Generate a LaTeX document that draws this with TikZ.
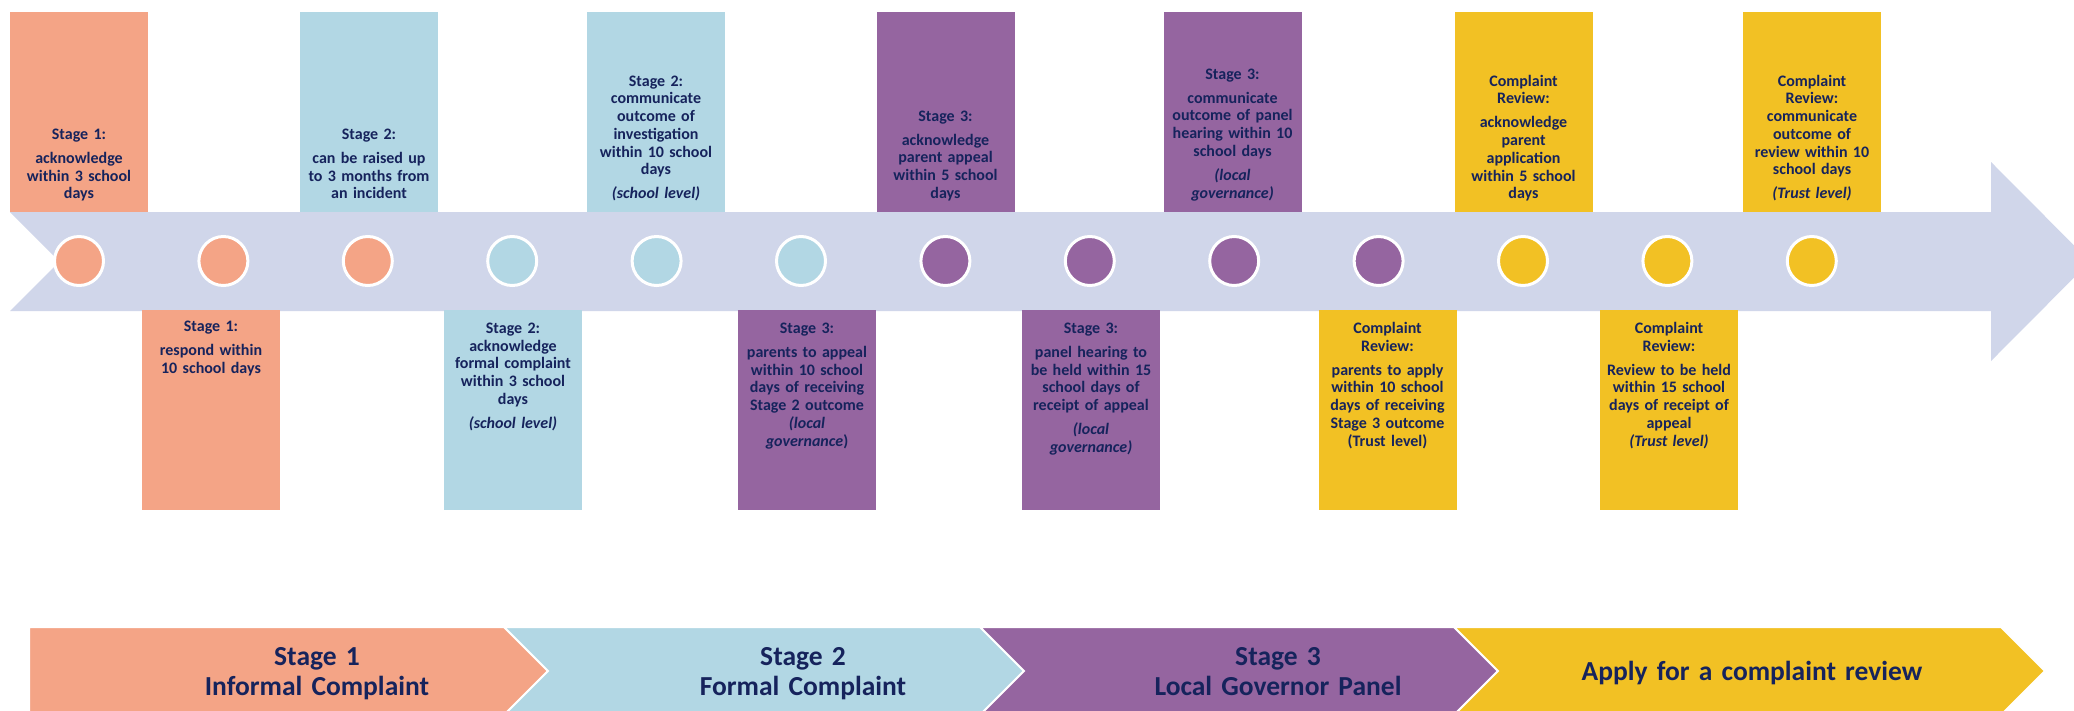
\documentclass[tikz,border=0pt]{standalone}
\usepackage{fontspec}
\setmainfont{Carlito}
\definecolor{txtnavy}{RGB}{22,35,92}
\definecolor{corange}{RGB}{244,164,134}
\definecolor{cblue}{RGB}{178,215,228}
\definecolor{cpurple}{RGB}{149,101,160}
\definecolor{cyellow}{RGB}{242,193,36}
\definecolor{cband}{RGB}{208,214,234}
\tikzset{
  topbox/.style={rectangle, minimum width=138pt, minimum height=200pt, inner sep=0pt, draw=none, fill=#1},
  botbox/.style={rectangle, minimum width=138pt, minimum height=200pt, inner sep=0pt, draw=none, fill=#1},
  boxtxt/.style={text width=136pt, align=center, inner sep=0pt, anchor=base, text=txtnavy,
    font=\bfseries\fontsize{16}{17.7}\selectfont},
  dot/.style={circle, minimum size=49pt, inner sep=0pt, fill=#1, draw=white, line width=3pt},
  chev/.style={fill=#1, draw=white, line width=2pt},
  chevtxt/.style={text width=500pt, align=center, inner sep=0pt, anchor=base, text=txtnavy,
    font=\bfseries\fontsize{27.5}{30}\selectfont}
}
\begin{document}
\begin{tikzpicture}[x=1pt,y=-1pt]
\useasboundingbox (0,0) rectangle (2074,710);
\clip (0,0) rectangle (2074,710);
\fill[white] (0,0) rectangle (2074,710);
% timeline band
\fill[cband] (10,212) -- (1991,212) -- (1991,162) -- (2090,261.5) -- (1991,361) -- (1991,311)
  -- (10,311) -- (59.5,261.5) -- cycle;
% boxes
\node[topbox=corange] (b1) at (79,112) {};
\node[botbox=corange] (b2) at (211,410) {};
\node[topbox=cblue] (b3) at (369,112) {};
\node[botbox=cblue] (b4) at (513,410) {};
\node[topbox=cblue] (b5) at (656,112) {};
\node[botbox=cpurple] (b6) at (807,410) {};
\node[topbox=cpurple] (b7) at (945.5,112) {};
\node[botbox=cpurple] (b8) at (1091,410) {};
\node[topbox=cpurple] (b9) at (1232.5,112) {};
\node[botbox=cyellow] (b10) at (1387.5,410) {};
\node[topbox=cyellow] (b11) at (1523.5,112) {};
\node[botbox=cyellow] (b12) at (1669,410) {};
\node[topbox=cyellow] (b13) at (1812,112) {};
% texts
\node[boxtxt] (t1) at (79,139.5) {Stage 1:\\[6.3pt]acknowledge\\within 3 school\\days};
\node[boxtxt] (t2) at (211,331.9) {Stage 1:\\[6.3pt]respond within\\10 school days};
\node[boxtxt] (t3) at (369,139.5) {Stage 2:\\[6.3pt]can be raised up\\to 3 months from\\an incident};
\node[boxtxt] (t4) at (513,333.5) {Stage 2:\\acknowledge\\formal complaint\\within 3 school\\days\\[6.3pt]\textit{(school level)}};
\node[boxtxt] (t5) at (656,86.2) {Stage 2:\\communicate\\outcome of\\investigation\\within 10 school\\days\\[6.3pt]\textit{(school level)}};
\node[boxtxt] (t6) at (807,333.5) {Stage 3:\\[6.3pt]parents to appeal\\within 10 school\\days of receiving\\Stage 2 outcome\\\textit{(local}\\\textit{governance})};
\node[boxtxt] (t7) at (945.5,121.2) {Stage 3:\\[6.3pt]acknowledge\\parent appeal\\within 5 school\\days};
\node[boxtxt] (t8) at (1091,333.5) {Stage 3:\\[6.3pt]panel hearing to\\be held within 15\\school days of\\receipt of appeal\\[6.3pt]\textit{(local}\\\textit{governance)}};
\node[boxtxt] (t9) at (1232.5,79.2) {Stage 3:\\[6.3pt]communicate\\outcome of panel\\hearing within 10\\school days\\[6.3pt]\textit{(local}\\\textit{governance)}};
\node[boxtxt] (t10) at (1387.5,333.5) {Complaint\\Review:\\[6.3pt]parents to apply\\within 10 school\\days of receiving\\Stage 3 outcome\\(Trust level)};
\node[boxtxt] (t11) at (1523.5,86.2) {Complaint\\Review:\\[6.3pt]acknowledge\\parent\\application\\within 5 school\\days};
\node[boxtxt] (t12) at (1669,333.5) {Complaint\\Review:\\[6.3pt]Review to be held\\within 15 school\\days of receipt of\\appeal\\\textit{(Trust level)}};
\node[boxtxt] (t13) at (1812,86.2) {Complaint\\Review:\\communicate\\outcome of\\review within 10\\school days\\[6.3pt]\textit{(Trust level)}};
% circles
\node[dot=corange] (c1) at (79,261) {};
\node[dot=corange] (c2) at (223.4,261) {};
\node[dot=corange] (c3) at (367.8,261) {};
\node[dot=cblue] (c4) at (512.2,261) {};
\node[dot=cblue] (c5) at (656.6,261) {};
\node[dot=cblue] (c6) at (801,261) {};
\node[dot=cpurple] (c7) at (945.4,261) {};
\node[dot=cpurple] (c8) at (1089.8,261) {};
\node[dot=cpurple] (c9) at (1234.2,261) {};
\node[dot=cpurple] (c10) at (1378.6,261) {};
\node[dot=cyellow] (c11) at (1523,261) {};
\node[dot=cyellow] (c12) at (1667.4,261) {};
\node[dot=cyellow] (c13) at (1811.8,261) {};
% chevrons
\path[chev=corange] (29,627) -- (504,627) -- (548,671) -- (504,715) -- (29,715) -- cycle;
\path[chev=cblue] (504,627) -- (980,627) -- (1024,671) -- (980,715) -- (504,715) -- (548,671) -- cycle;
\path[chev=cpurple] (980,627) -- (1454,627) -- (1498,671) -- (1454,715) -- (980,715) -- (1024,671) -- cycle;
\path[chev=cyellow] (1454,627) -- (2001,627) -- (2045,671) -- (2001,715) -- (1454,715) -- (1498,671) -- cycle;
\node[chevtxt] (l1) at (317,665) {Stage 1\\Informal Complaint};
\node[chevtxt] (l2) at (803,665) {Stage 2\\Formal Complaint};
\node[chevtxt] (l3) at (1278,665) {Stage 3\\Local Governor Panel};
\node[chevtxt] (l4) at (1752,680) {Apply for a complaint review};
\end{tikzpicture}
\end{document}
